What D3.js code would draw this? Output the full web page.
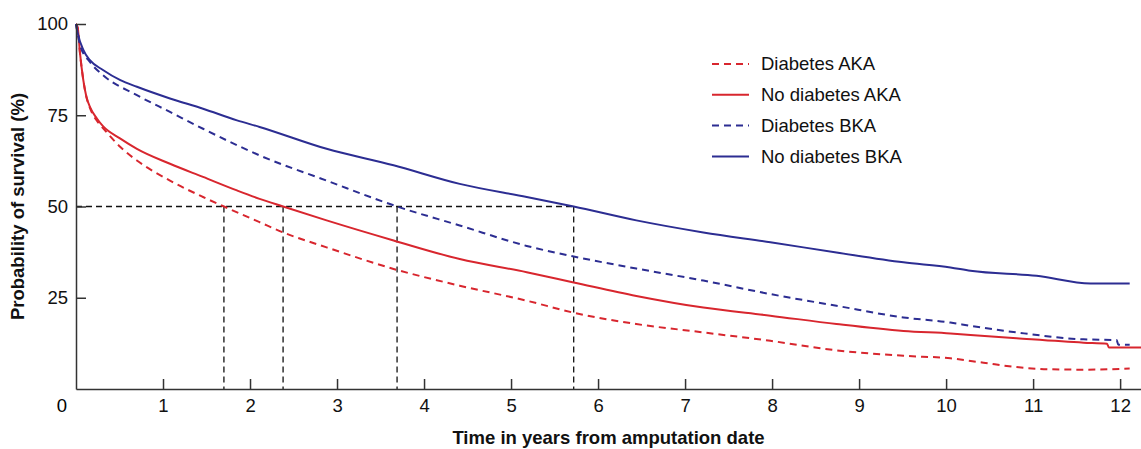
<!DOCTYPE html>
<meta charset="utf-8">
<style>
body { margin: 0; background: #fff; }
svg { font-family: "Liberation Sans", Arial, Helvetica, sans-serif; }
.axis path, .axis line { stroke: #333; stroke-width: 1.5px; }
.axis text { font-size: 18.5px; fill: #111; }
.curve { fill: none; stroke-width: 2px; }
.ref { fill: none; stroke: #111; stroke-width: 1.3px; stroke-dasharray: 6,4; }
.title { font-size: 18.5px; font-weight: bold; fill: #111; }
.legend text { font-size: 18.5px; fill: #111; }
</style>
<svg id="chart" width="1141" height="449"></svg>
<script src="https://cdn.jsdelivr.net/npm/d3@7"></script>
<script>
// survival values (%), [years, percent]
var diabetesAKA = [[0,100],[0.02,98.9],[0.046,92],[0.084,84.6],[0.12,80],[0.16,77],[0.24,73.5],[0.31,71.5],
  [0.51,66.3],[0.70,62.6],[1.08,57.1],[1.46,52.6],[1.70,50],[2.11,45.7],[2.38,42.9],[2.88,38.8],[3.65,32.9],
  [4.41,28.3],[5.18,24.2],[5.72,20.9],[6.44,17.8],[7.21,15.5],[7.98,13.2],[8.74,10.6],[9.51,9.1],[10.05,8.4],
  [10.43,7.2],[10.81,6.0],[11.2,5.4],[11.6,5.3],[12.11,5.6]];
var noDiabetesAKA = [[0,100],[0.02,98.9],[0.046,92],[0.084,84.6],[0.12,80],[0.16,77.3],[0.24,74.1],[0.31,72],
  [0.51,68.6],[0.70,65.8],[1.08,61.7],[1.46,58.1],[1.85,54.4],[2.11,52.1],[2.38,50],[2.88,46.2],[3.65,40.7],
  [4.41,35.6],[5.18,32],[5.72,29.2],[6.44,25.5],[7.21,22.3],[7.98,20.1],[8.74,17.8],[9.51,15.9],[10.05,15.2],
  [10.28,14.8],[10.81,13.9],[11.58,12.7],[11.85,12.4],[11.87,11.4],[12.24,11.4]];
var diabetesBKA = [[0,100],[0.05,94],[0.16,89.6],[0.31,86],[0.70,80.5],[1.08,75.9],[1.46,71.3],[1.85,66.8],
  [2.11,64],[2.88,57.1],[3.69,50],[4.41,44.8],[5.18,39.2],[5.72,36.3],[6.44,33],[7.21,29.7],
  [7.98,26],[8.74,22.8],[9.51,19.6],[10.05,18.2],[10.28,17.3],[10.81,15.5],[11.58,13.6],[11.96,13.4],
  [11.98,12.1],[12.11,12.1]];
var noDiabetesBKA = [[0,100],[0.02,97.5],[0.084,92.9],[0.16,90.1],[0.31,87.4],[0.51,84.6],[0.70,82.8],
  [1.08,79.6],[1.46,76.8],[1.85,73.6],[2.11,71.8],[2.88,65.8],[3.65,61.3],[4.41,56.2],[5.18,52.6],[5.72,50],
  [6.44,46.2],[7.21,42.9],[7.98,40.2],[8.74,37.4],[9.51,34.7],[10.05,33.3],[10.28,32.4],[11.04,31],
  [11.66,28.9],[12.11,28.9]];

var seriesNames = ["Diabetes AKA", "No diabetes AKA", "Diabetes BKA", "No diabetes BKA"];
var seriesValues = [diabetesAKA, noDiabetesAKA, diabetesBKA, noDiabetesBKA];
var medianYears = [1.70, 2.38, 3.69, 5.72];   // where each curve crosses 50%
var xTicks = [1,2,3,4,5,6,7,8,9,10,11,12];
var yTicks = [25, 50, 75, 100];

var RED = "#d8262e", BLUE = "#2c2d92";
var colors = [RED, RED, BLUE, BLUE];
var dashed = [true, false, true, false];

var svg = d3.select("#chart"),
    margin = {top: 24, right: 0, bottom: 60, left: 76},
    width = svg.attr("width") - margin.left - margin.right,
    height = svg.attr("height") - margin.top - margin.bottom,
    g = svg.append("g").attr("transform", "translate(" + margin.left + "," + margin.top + ")");

var x = d3.scaleLinear().domain([0, 12.24]).range([0, width]),
    y = d3.scaleLinear().domain([0, 100]).range([height, 0]);

var line = d3.line()
    .curve(d3.curveMonotoneX)
    .x(function(d) { return x(d[0]); })
    .y(function(d) { return y(d[1]); });

// dashed median guides
g.append("line")
    .attr("class", "ref")
    .attr("x1", x(0)).attr("x2", x(d3.max(medianYears)))
    .attr("y1", y(50)).attr("y2", y(50));

g.selectAll(".vref")
  .data(medianYears)
  .enter().append("line")
    .attr("class", "ref vref")
    .attr("x1", function(d) { return x(d); })
    .attr("x2", function(d) { return x(d); })
    .attr("y1", y(50)).attr("y2", y(0));

g.selectAll(".curve")
  .data(seriesValues)
  .enter().append("path")
    .attr("class", "curve")
    .attr("d", line)
    .style("stroke", function(d, i) { return colors[i]; })
    .style("stroke-dasharray", function(d, i) { return dashed[i] ? "7,5" : null; });

g.append("g")
    .attr("class", "axis axis--x")
    .attr("transform", "translate(0," + height + ")")
    .call(d3.axisBottom(x).tickValues(xTicks).tickFormat(d3.format("d"))
      .tickSizeInner(-10).tickSizeOuter(0).tickPadding(10));

g.append("g")
    .attr("class", "axis axis--y")
    .call(d3.axisLeft(y).tickValues(yTicks)
      .tickSizeInner(-10).tickSizeOuter(0).tickPadding(8));

// shared origin label
g.append("text")
    .attr("class", "axis")
    .attr("x", -14)
    .attr("y", height + 10)
    .attr("dy", "0.71em")
    .attr("text-anchor", "middle")
    .style("font-size", "18.5px")
    .text("0");

svg.append("text")
    .attr("class", "title")
    .attr("x", margin.left + width / 2)
    .attr("y", 444)
    .attr("text-anchor", "middle")
    .text("Time in years from amputation date");

svg.append("text")
    .attr("class", "title")
    .attr("transform", "translate(24," + (margin.top + y(50)) + ") rotate(-90)")
    .attr("text-anchor", "middle")
    .text("Probability of survival (%)");

// legend
var legend = svg.append("g")
    .attr("class", "legend")
    .attr("transform", "translate(712,64)");

var item = legend.selectAll("g")
  .data(seriesNames)
  .enter().append("g")
    .attr("transform", function(d, i) { return "translate(0," + (i * 30.8) + ")"; });

item.append("line")
    .attr("x1", 0).attr("x2", 37)
    .style("stroke", function(d, i) { return colors[i]; })
    .style("stroke-width", 2)
    .style("stroke-dasharray", function(d, i) { return dashed[i] ? "7,5" : null; });

item.append("text")
    .attr("x", 49)
    .attr("dy", "0.35em")
    .text(function(d) { return d; });
</script>
